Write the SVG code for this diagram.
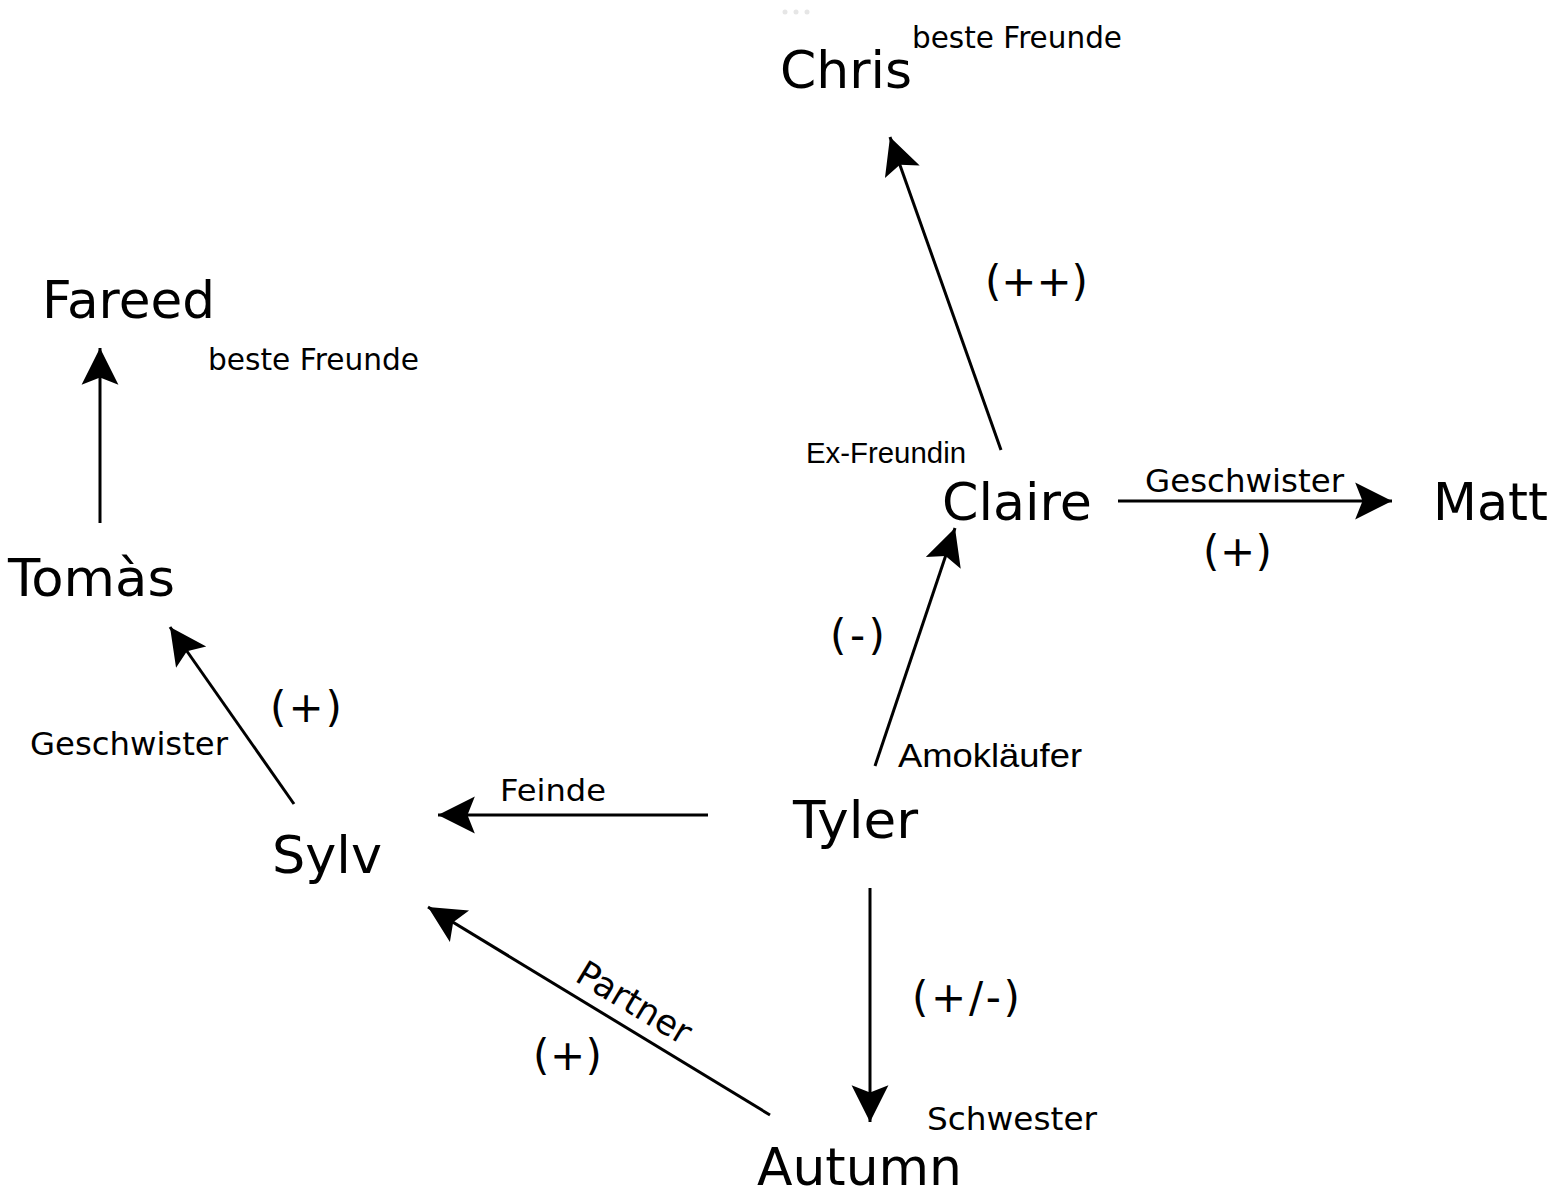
<svg xmlns="http://www.w3.org/2000/svg" width="1568" height="1195" viewBox="0 0 1568 1195">
  <style>
    .node { font-family: "DejaVu Sans", Verdana, sans-serif; fill: #000; }
    .lbl { font-family: "DejaVu Sans", Verdana, sans-serif; fill: #000; }
    .lbla { font-family: "Liberation Sans", Arial, sans-serif; fill: #000; }
    .sign { font-family: "DejaVu Sans", Verdana, sans-serif; font-size: 42px; fill: #000; }
    .edge { stroke: #000; stroke-width: 3; fill: none; marker-end: url(#arr); }
  </style>
  <defs>
    <marker id="arr" markerUnits="userSpaceOnUse" markerWidth="40" markerHeight="40" viewBox="-36 -19 38 38" refX="0" refY="0" orient="auto">
      <path d="M0,0 L-35,-17.5 L-28,0 L-35,17.5 Z" fill="#000"/>
    </marker>
  </defs>
  <rect width="1568" height="1195" fill="#fff"/>
  <g id="dots" fill="#e6e6e6">
    <circle cx="785" cy="12" r="2.5"/>
    <circle cx="796" cy="12" r="2.5"/>
    <circle cx="807" cy="12" r="2.5"/>
  </g>

  <g id="connectors">
    <line class="edge" x1="1001" y1="450" x2="890" y2="137"/>
    <line class="edge" x1="100" y1="523" x2="100" y2="348"/>
    <line class="edge" x1="1118" y1="501" x2="1392" y2="501"/>
    <line class="edge" x1="875" y1="766" x2="955" y2="528"/>
    <line class="edge" x1="294" y1="804" x2="170" y2="627"/>
    <line class="edge" x1="708" y1="815" x2="438" y2="815"/>
    <line class="edge" x1="870" y1="888" x2="870" y2="1122"/>
    <line class="edge" x1="770" y1="1115" x2="428" y2="907"/>
    <text class="lbl" font-size="29.6" x="912" y="48" textLength="210" lengthAdjust="spacingAndGlyphs">beste Freunde</text>
    <text class="lbl" font-size="29.6" x="208" y="370" textLength="211" lengthAdjust="spacingAndGlyphs">beste Freunde</text>
    <text class="lbla" font-size="29" x="806" y="463" textLength="160" lengthAdjust="spacingAndGlyphs">Ex-Freundin</text>
    <text class="lbl" font-size="32" x="1145" y="492" textLength="199" lengthAdjust="spacingAndGlyphs">Geschwister</text>
    <text class="lbla" font-size="34" x="898" y="767" textLength="184" lengthAdjust="spacingAndGlyphs">Amokläufer</text>
    <text class="lbl" font-size="32" x="30" y="755" textLength="198" lengthAdjust="spacingAndGlyphs">Geschwister</text>
    <text class="lbl" font-size="31" x="500" y="801" textLength="106" lengthAdjust="spacingAndGlyphs">Feinde</text>
    <text class="lbl" font-size="32" x="927" y="1130" textLength="170" lengthAdjust="spacingAndGlyphs">Schwester</text>
    <text class="lbl" font-size="35" text-anchor="middle" transform="translate(628,1013) rotate(31)">Partner</text>
    <text class="sign" x="985" y="296" textLength="103" lengthAdjust="spacing">(++)</text>
    <text class="sign" x="1203" y="566" textLength="69" lengthAdjust="spacing">(+)</text>
    <text class="sign" x="830" y="650" textLength="55" lengthAdjust="spacing">(-)</text>
    <text class="sign" x="270" y="722" textLength="72" lengthAdjust="spacing">(+)</text>
    <text class="sign" x="912" y="1012" textLength="108" lengthAdjust="spacing">(+/-)</text>
    <text class="sign" x="533" y="1070" textLength="69" lengthAdjust="spacing">(+)</text>
  </g>

  <g id="node-chris"><text class="node" font-size="52" x="780" y="88" textLength="132" lengthAdjust="spacingAndGlyphs">Chris</text></g>
  <g id="node-fareed"><text class="node" font-size="52" x="42" y="318" textLength="173" lengthAdjust="spacingAndGlyphs">Fareed</text></g>
  <g id="node-tomas"><text class="node" font-size="52" x="8" y="596" textLength="167" lengthAdjust="spacingAndGlyphs">Tomàs</text></g>
  <g id="node-claire"><text class="node" font-size="52" x="942" y="520" textLength="150" lengthAdjust="spacingAndGlyphs">Claire</text></g>
  <g id="node-matt"><text class="node" font-size="52" x="1433" y="520" textLength="115" lengthAdjust="spacingAndGlyphs">Matt</text></g>
  <g id="node-tyler"><text class="node" font-size="52" x="793" y="838" textLength="125" lengthAdjust="spacingAndGlyphs">Tyler</text></g>
  <g id="node-sylv"><text class="node" font-size="52" x="272" y="873" textLength="110" lengthAdjust="spacingAndGlyphs">Sylv</text></g>
  <g id="node-autumn"><text class="node" font-size="52" x="757" y="1185" textLength="205" lengthAdjust="spacingAndGlyphs">Autumn</text></g>
</svg>
